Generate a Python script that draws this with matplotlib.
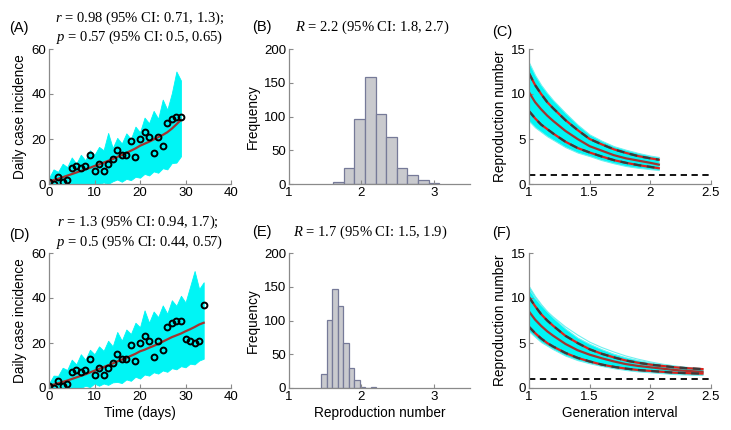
import numpy as np
import matplotlib
matplotlib.use("Agg")
import matplotlib.pyplot as plt

plt.rcParams['font.family'] = ['Liberation Sans', 'DejaVu Sans']
plt.rcParams['mathtext.fontset'] = 'custom'
plt.rcParams['mathtext.it'] = 'Liberation Serif:italic'
plt.rcParams['mathtext.rm'] = 'Liberation Serif'

# ---------------- data ----------------
days_A = list(range(30))
cases_A = [1, 0, 3, 1, 2, 7, 8, 7, 8, 13, 6, 9, 6, 9, 11, 15, 13, 13, 19, 12,
           20, 23, 21, 14, 21, 17, 27, 29, 30, 30]
fit_A = [1.0, 1.7, 2.3, 3.0, 3.7, 4.4, 5.1, 5.8, 6.5, 7.2, 8.0, 8.7, 9.5, 10.3, 11.1,
         12.0, 12.9, 13.8, 14.8, 15.8, 17.0, 17.9, 18.8, 19.8, 20.8, 21.8, 23.0, 24.6, 26.5, 28.5]
band_hi_A = [2.7, 6.5, 5.4, 9, 7.5, 11.8, 9, 13, 10.5, 15, 13, 16.5, 15, 22.7, 16, 20.5, 18, 22.5, 20, 25.5,
             23, 29.5, 27, 32.5, 29, 37.5, 33, 40.4, 50, 46]
band_lo_A = [0, 0, 0, 0, 0, 0, 0, 0, 0, 0, 0, 0, 0.7, 0, 1.2, 2, 1, 2.3, 1.7, 3.2,
             2.8, 4.5, 3.8, 5.6, 5.0, 7, 6.5, 9.3, 9.5, 12.3]

days_D = list(range(35))
cases_D = cases_A + [22, 21, 20, 21, 37]
fit_D = [1.0, 1.5, 2.1, 2.7, 3.3, 4.0, 4.7, 5.4, 6.1, 6.9, 7.7, 8.5, 9.3, 10.1, 10.9,
         11.8, 12.6, 13.4, 14.3, 15.2, 16.3, 17.0, 17.9, 18.7, 19.6, 20.6, 21.6, 22.6, 23.4, 24.2,
         25.2, 26.1, 27.1, 28.2, 29.0]
band_hi_D = [2, 5.5, 5.4, 9, 8, 12.6, 10.5, 15, 12.5, 17, 15, 18.5, 16.5, 21, 18.5, 24.9, 21, 26, 24, 29,
             27, 34.5, 29, 34, 31.5, 36.7, 33, 39, 36.5, 41, 38, 45, 52, 44, 47]
band_lo_D = [0, 0, 0, 0, 0, 0, 0, 0, 1, 0.4, 2, 1, 2, 1.4, 2.5, 2.7, 2.2, 3.8, 3.2, 5,
             4.2, 6, 5.5, 7, 6.4, 7.8, 7.2, 8.8, 8.3, 9.7, 9.2, 10.8, 10.5, 12.2, 13]

R_edges_B = [1.61, 1.756, 1.903, 2.05, 2.196, 2.343, 2.49, 2.636, 2.783, 2.93, 3.076]
R_counts_B = [3, 24, 97, 158, 103, 69, 24, 14, 6, 2]
R_edges_E = [1.444, 1.52, 1.597, 1.673, 1.749, 1.825, 1.901, 1.977, 2.053, 2.129, 2.205]
R_counts_E = [21, 101, 146, 121, 67, 29, 12, 2, 0, 2]

gi_C = [1.0, 1.05, 1.1, 1.15, 1.2, 1.3, 1.4, 1.5, 1.6, 1.7, 1.8, 1.9, 2.0, 2.07]
R_C = [10.2, 9.1, 8.3, 7.6, 7.0, 5.9, 5.0, 4.2, 3.7, 3.2, 2.85, 2.6, 2.35, 2.15]
R_up_C = [12.3, 11.0, 10.0, 9.1, 8.4, 7.1, 6.0, 5.0, 4.4, 3.85, 3.45, 3.1, 2.85, 2.7]
R_lo_C = [8.1, 7.3, 6.6, 6.1, 5.6, 4.7, 4.0, 3.5, 3.05, 2.65, 2.35, 2.1, 1.9, 1.75]
band_hi_C = [13.5, 12.1, 11.0, 10.1, 9.3, 7.9, 6.6, 5.5, 4.8, 4.2, 3.8, 3.45, 3.15, 3.0]
band_lo_C = [7.0, 6.3, 5.8, 5.3, 4.9, 4.1, 3.5, 3.1, 2.65, 2.3, 2.0, 1.8, 1.65, 1.55]

gi_F = [1.0, 1.05, 1.1, 1.15, 1.2, 1.3, 1.4, 1.5, 1.6, 1.7, 1.8, 1.9, 2.0, 2.1, 2.2, 2.3, 2.43]
R_F = [8.5, 7.6, 6.9, 6.3, 5.8, 4.9, 4.2, 3.7, 3.3, 2.95, 2.65, 2.45, 2.3, 2.15, 2.0, 1.9, 1.8]
R_up_F = [10.1, 9.1, 8.2, 7.5, 6.9, 5.8, 5.0, 4.3, 3.8, 3.4, 3.05, 2.8, 2.6, 2.45, 2.3, 2.2, 2.1]
R_lo_F = [6.8, 6.1, 5.5, 5.0, 4.6, 3.9, 3.35, 2.95, 2.6, 2.35, 2.15, 2.0, 1.9, 1.8, 1.7, 1.65, 1.6]
band_hi_F = [11.3, 10.2, 9.3, 8.5, 7.8, 6.6, 5.6, 4.9, 4.3, 3.8, 3.4, 3.1, 2.85, 2.65, 2.45, 2.3, 2.15]
band_lo_F = [6.3, 5.7, 5.1, 4.7, 4.3, 3.6, 3.1, 2.75, 2.45, 2.2, 2.0, 1.85, 1.75, 1.65, 1.55, 1.5, 1.45]
outlier_F = [11.0, 10.0, 9.2, 8.5, 7.9, 6.8, 5.9, 5.1, 4.5, 4.0, 3.55, 3.2, 2.9, 2.65, 2.45, 2.3, 2.15]
threshold = 1

titles_A = ["$r$ = 0.98 (95% CI: 0.71, 1.3);", "$p$ = 0.57 (95% CI: 0.5, 0.65)"]
titles_D = ["$r$ = 1.3 (95% CI: 0.94, 1.7);", "$p$ = 0.5 (95% CI: 0.44, 0.57)"]
title_B = "$R$ = 2.2 (95% CI: 1.8, 2.7)"
title_E = "$R$ = 1.7 (95% CI: 1.5, 1.9)"

# ---------------- layout ----------------
W, H = 731, 430
fig = plt.figure(figsize=(W / 100, H / 100), dpi=100)

def px_axes(left, top, right, bottom):
    return fig.add_axes([left / W, 1 - bottom / H, (right - left) / W, (bottom - top) / H])

def ftext(x, y, s, **kw):
    fig.text(x / W, 1 - y / H, s, **kw)

CYAN = '#00f5f5'
RED = '#a5332e'
SPINE = '#8a8a8a'
TICK_FS = 9.5
LAB_FS = 9.8

def style(ax):
    for s in ['top', 'right']:
        ax.spines[s].set_visible(False)
    for s in ['left', 'bottom']:
        ax.spines[s].set_color(SPINE)
        ax.spines[s].set_linewidth(0.9)
    ax.tick_params(direction='in', length=3, width=0.8, color=SPINE,
                   labelsize=TICK_FS, pad=2)

tfont = dict(family=['Liberation Serif'], fontsize=10.5, ha='center', va='center')
lfont = dict(fontsize=10.5, ha='left', va='center')

cols = [(49, 231), (289, 470), (529, 711)]
rows = [(49, 184), (253, 388)]

# incidence panels
for r, (days, cases, fit, hi, lo) in enumerate([
        (days_A, cases_A, fit_A, band_hi_A, band_lo_A),
        (days_D, cases_D, fit_D, band_hi_D, band_lo_D)]):
    ax = px_axes(cols[0][0], rows[r][0], cols[0][1], rows[r][1])
    ax.fill_between(days, lo, hi, color=CYAN, lw=0.6, edgecolor=CYAN)
    ax.plot(days, fit, color=RED, lw=1.6)
    ax.plot(days, cases, 'o', ms=4.2, mfc='none', mec='black', mew=1.4)
    ax.set_xlim(0, 40)
    ax.set_ylim(0, 60)
    ax.set_xticks([0, 10, 20, 30, 40])
    ax.set_yticks([0, 20, 40, 60])
    style(ax)
    ax.set_ylabel('Daily case incidence', fontsize=LAB_FS, labelpad=3)
    if r == 1:
        ax.set_xlabel('Time (days)', fontsize=LAB_FS, labelpad=2)

# histograms
for r, (edges, counts) in enumerate([(R_edges_B, R_counts_B), (R_edges_E, R_counts_E)]):
    ax = px_axes(cols[1][0], rows[r][0], cols[1][1], rows[r][1])
    e = np.array(edges)
    ax.bar(e[:-1], counts, width=np.diff(e), align='edge', color='#c9cace',
           edgecolor='#767a98', linewidth=0.9)
    ax.set_xlim(1, 3.5)
    ax.set_ylim(0, 200)
    ax.set_xticks([1, 2, 3])
    ax.set_yticks([0, 50, 100, 150, 200])
    style(ax)
    ax.set_ylabel('Frequency', fontsize=LAB_FS, labelpad=3)
    if r == 1:
        ax.set_xlabel('Reproduction number', fontsize=LAB_FS, labelpad=2)

# R vs generation interval
for r, (gi, Rm, Ru, Rl, bh, bl) in enumerate([
        (gi_C, R_C, R_up_C, R_lo_C, band_hi_C, band_lo_C),
        (gi_F, R_F, R_up_F, R_lo_F, band_hi_F, band_lo_F)]):
    ax = px_axes(cols[2][0], rows[r][0], cols[2][1], rows[r][1])
    ax.fill_between(gi, bl, bh, color=CYAN, lw=0.8, edgecolor='#70f0f0')
    if r == 1:
        ax.plot(gi_F, outlier_F, color='#70f0f0', lw=0.8)
    ax.plot(gi, Rm, color=RED, lw=1.6)
    for curve in (Ru, Rl):
        ax.plot(gi, curve, color='#e0201a', lw=1.6)
        ax.plot(gi, curve, color='#3a3a3a', lw=1.6, dashes=(3.5, 2.5))
    ax.axhline(threshold, color='black', lw=1.3, dashes=(3.5, 2.5))
    ax.set_xlim(1, 2.5)
    ax.set_ylim(0, 15)
    ax.set_xticks([1, 1.5, 2, 2.5])
    ax.set_xticklabels(['1', '1.5', '2', '2.5'])
    ax.set_yticks([0, 5, 10, 15])
    style(ax)
    ax.set_ylabel('Reproduction number', fontsize=LAB_FS, labelpad=3)
    if r == 1:
        ax.set_xlabel('Generation interval', fontsize=LAB_FS, labelpad=2)

# titles
ftext(140, 18, titles_A[0], **tfont)
ftext(140, 37, titles_A[1], **tfont)
ftext(138, 222, titles_D[0], **tfont)
ftext(140, 242, titles_D[1], **tfont)
ftext(372, 27, title_B, **tfont)
ftext(370, 232, title_E, **tfont)

# panel labels
ftext(9, 28, '(A)', **lfont)
ftext(252, 27, '(B)', **lfont)
ftext(492, 32, '(C)', **lfont)
ftext(9, 235, '(D)', **lfont)
ftext(252, 232, '(E)', **lfont)
ftext(492, 233, '(F)', **lfont)

fig.savefig('out.png', dpi=100, facecolor='white')
